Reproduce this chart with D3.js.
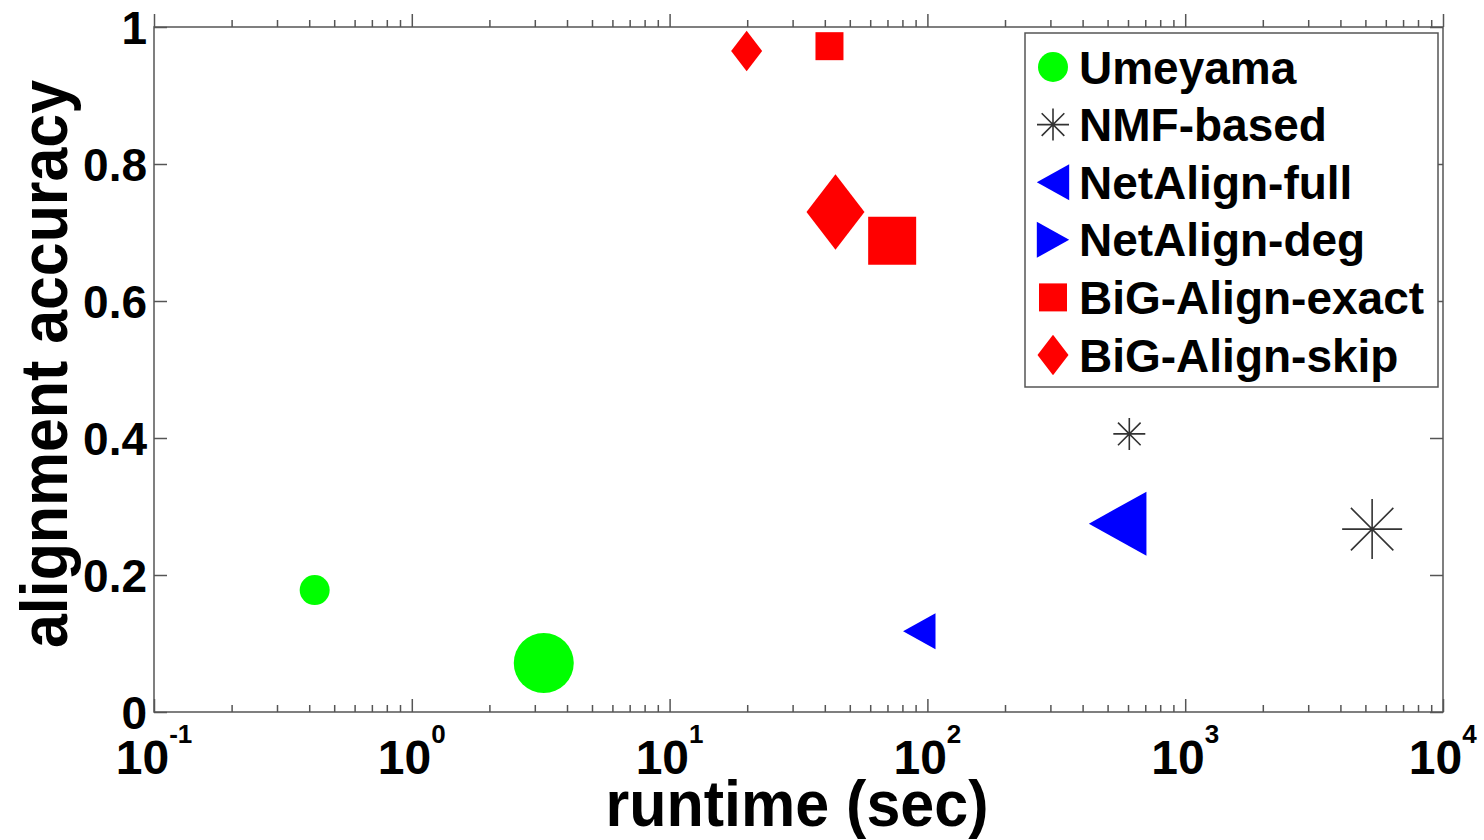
<!DOCTYPE html>
<html>
<head>
<meta charset="utf-8">
<script src="https://cdn.jsdelivr.net/npm/d3@7"></script>
<style>
  body { margin: 0; background: #fff; }
  text { font-family: "Liberation Sans", Arial, Helvetica, sans-serif; font-weight: bold; fill: #000; }
</style>
</head>
<body>
<div id="chart"></div>
<script>
// runtime vs accuracy, two experiments per method (small marker = first, big marker = second)
var methods = ["Umeyama", "NMF-based", "NetAlign-full", "NetAlign-deg", "BiG-Align-exact", "BiG-Align-skip"];
var runtimeA  = [0.42, 607, 93, null, 41.7, 19.9];
var accuracyA = [0.178, 0.406, 0.118, null, 0.972, 0.965];
var runtimeB  = [3.25, 5310, 547, null, 73, 44];
var accuracyB = [0.0715, 0.267, 0.275, null, 0.688, 0.730];

var xTicks = [0.1, 1, 10, 100, 1000, 10000];
var xTickExp = ["-1", "0", "1", "2", "3", "4"];
var yTicks = [0, 0.2, 0.4, 0.6, 0.8, 1];
var yTickLabels = ["0", "0.2", "0.4", "0.6", "0.8", "1"];

var shapes = ["circle", "asterisk", "triLeft", "triRight", "square", "diamond"];
var colors = ["#00ff00", "#333", "#0000ff", "#0000ff", "#ff0000", "#ff0000"];

// set the dimensions and margins of the graph
var margin = {top: 27, right: 41, bottom: 128, left: 154},
    width = 1484 - margin.left - margin.right,
    height = 840 - margin.top - margin.bottom;

var x = d3.scaleLog().domain([0.1, 10000]).range([0, width]);
var y = d3.scaleLinear().domain([0, 1]).range([height, 0]);

var svg = d3.select("#chart").append("svg")
  .attr("width", 1484)
  .attr("height", 840)
  .append("g")
  .attr("transform", "translate(" + margin.left + "," + margin.top + ")");

// marker path, s = half size
function markerPath(shape, s) {
  var p = d3.path();
  if (shape == "circle") {
    p.arc(0, 0, s, 0, 2 * Math.PI);
  } else if (shape == "asterisk") {
    var d = s * Math.SQRT1_2;
    p.moveTo(-s, 0); p.lineTo(s, 0);
    p.moveTo(0, -s); p.lineTo(0, s);
    p.moveTo(-d, -d); p.lineTo(d, d);
    p.moveTo(-d, d); p.lineTo(d, -d);
  } else if (shape == "triLeft") {
    p.moveTo(-s * 0.9, 0); p.lineTo(s * 0.9, -s); p.lineTo(s * 0.9, s); p.closePath();
  } else if (shape == "triRight") {
    p.moveTo(s * 0.9, 0); p.lineTo(-s * 0.9, -s); p.lineTo(-s * 0.9, s); p.closePath();
  } else if (shape == "square") {
    p.rect(-s, -s, 2 * s, 2 * s);
  } else if (shape == "diamond") {
    p.moveTo(0, -s * 1.3); p.lineTo(s, 0); p.lineTo(0, s * 1.3); p.lineTo(-s, 0); p.closePath();
  }
  return p.toString();
}

// per-shape half sizes for the small and the big markers
var sizeA = {circle: 15, asterisk: 16, triLeft: 18, triRight: 18, square: 14, diamond: 15.5};
var sizeB = {circle: 30, asterisk: 30, triLeft: 32, triRight: 32, square: 24, diamond: 29};

function drawMarker(g, shape, color, s) {
  var m = g.append("path").attr("d", markerPath(shape, s));
  if (shape == "asterisk") {
    m.attr("fill", "none").attr("stroke", color).attr("stroke-width", 1.6);
  } else {
    m.attr("fill", color).attr("stroke", "none");
  }
  return m;
}

// axes: minor ticks then major ticks, pointing inward, on all four sides
var minor = x.ticks().filter(function(d) { return xTicks.indexOf(d) < 0; });
function xAxisTicks(axisFn, ty) {
  svg.append("g").attr("class", "axis").attr("transform", "translate(0," + ty + ")")
    .call(axisFn(x).tickValues(minor).tickSize(-7 * (ty == 0 ? -1 : 1)).tickFormat(""));
  svg.append("g").attr("class", "axis").attr("transform", "translate(0," + ty + ")")
    .call(axisFn(x).tickValues(xTicks).tickSize(-13 * (ty == 0 ? -1 : 1)).tickFormat(""));
}
xAxisTicks(d3.axisBottom, height);
xAxisTicks(d3.axisTop, 0);
svg.append("g").attr("class", "axis")
  .call(d3.axisLeft(y).tickValues(yTicks).tickSize(-13).tickFormat(""));
svg.append("g").attr("class", "axis").attr("transform", "translate(" + width + ",0)")
  .call(d3.axisRight(y).tickValues(yTicks).tickSize(-13).tickFormat(""));
svg.selectAll(".axis path, .axis line").attr("stroke", "#555").attr("stroke-width", 1.5);
svg.selectAll(".axis path").attr("d", null);
svg.append("rect").attr("width", width).attr("height", height)
  .attr("fill", "none").attr("stroke", "#555").attr("stroke-width", 1.5);

// x tick labels: 10 with exponent, centred on the tick after measuring
xTicks.forEach(function(v, i) {
  var t = svg.append("text")
    .attr("y", 774 - margin.top)
    .style("font-size", "48px");
  t.append("tspan").text("10");
  t.append("tspan").attr("dy", -31).style("font-size", "26px").text(xTickExp[i]);
  var w = t.node().getBBox().width;
  t.attr("x", x(v) - w / 2);
});

// y tick labels
yTicks.forEach(function(v, i) {
  svg.append("text")
    .attr("x", -7).attr("y", y(v)).attr("dy", "0.36em")
    .attr("text-anchor", "end")
    .style("font-size", "46px")
    .text(yTickLabels[i]);
});

// axis titles
svg.append("text")
  .attr("x", 797 - margin.left).attr("y", 826 - margin.top)
  .attr("text-anchor", "middle")
  .attr("textLength", 383).attr("lengthAdjust", "spacingAndGlyphs")
  .style("font-size", "64px")
  .text("runtime (sec)");

svg.append("text")
  .attr("transform", "translate(" + (67 - margin.left) + "," + (364 - margin.top) + ") rotate(-90)")
  .attr("text-anchor", "middle")
  .attr("textLength", 568).attr("lengthAdjust", "spacingAndGlyphs")
  .style("font-size", "66px")
  .text("alignment accuracy");

// data points
methods.forEach(function(m, i) {
  if (runtimeA[i] != null) {
    drawMarker(svg.append("g").attr("transform", "translate(" + x(runtimeA[i]) + "," + y(accuracyA[i]) + ")"),
      shapes[i], colors[i], sizeA[shapes[i]]);
  }
  if (runtimeB[i] != null) {
    drawMarker(svg.append("g").attr("transform", "translate(" + x(runtimeB[i]) + "," + y(accuracyB[i]) + ")"),
      shapes[i], colors[i], sizeB[shapes[i]]);
  }
});

// legend
var legend = svg.append("g").attr("transform", "translate(" + (1025 - margin.left) + "," + (33 - margin.top) + ")");
legend.append("rect").attr("width", 413).attr("height", 354)
  .attr("fill", "#fff").attr("stroke", "#555").attr("stroke-width", 1.5);
methods.forEach(function(m, i) {
  var row = legend.append("g").attr("transform", "translate(0," + (34 + i * 57.6) + ")");
  drawMarker(row.append("g").attr("transform", "translate(28,0)"), shapes[i], colors[i], sizeA[shapes[i]]);
  row.append("text").attr("x", 54).attr("dy", "0.36em")
    .style("font-size", "46px")
    .text(m);
});
</script>
</body>
</html>
